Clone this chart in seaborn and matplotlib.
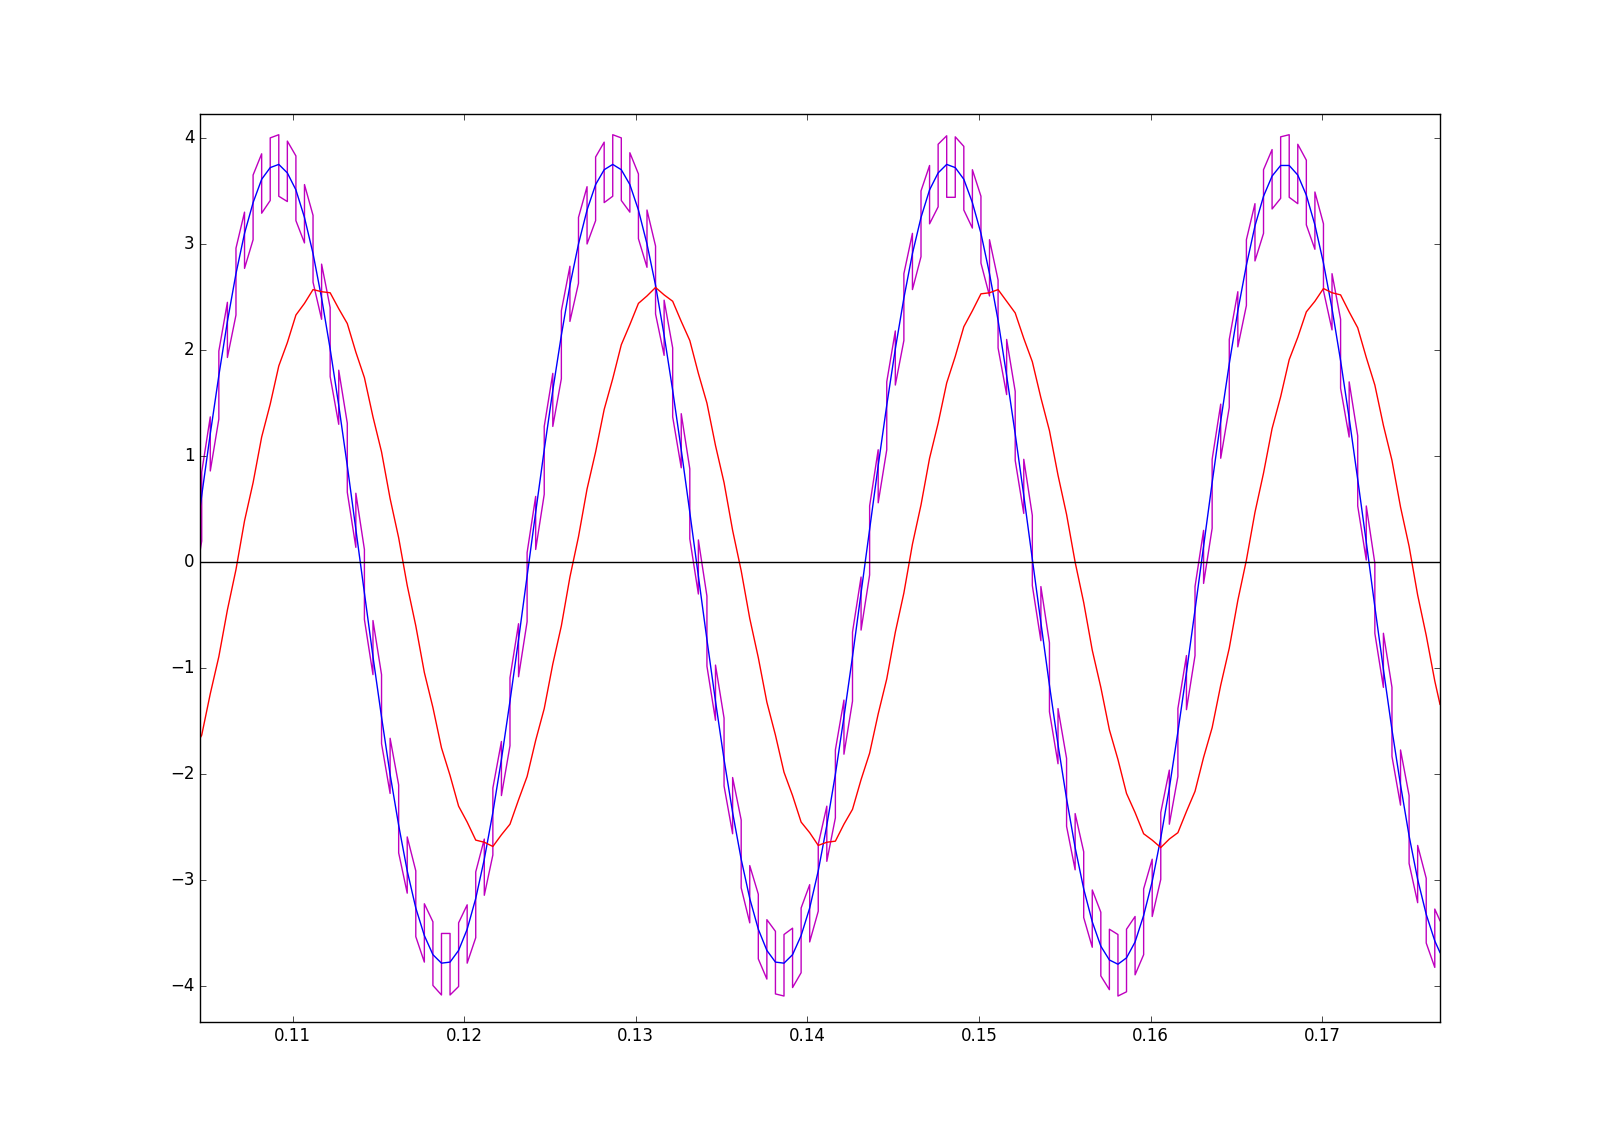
import numpy as np
import matplotlib
matplotlib.use("Agg")
import matplotlib.pyplot as plt
import seaborn as sns

# Sample grid: the pwm steps jump every ~0.5 ms
t_start = 0.1046
t_end = 0.17686
t_first_jump = 0.1047
t_step = 0.000499

# PWM-like signal (magenta): value just before and just after each jump
pwm_start = 0.10
pwm_end = -3.38
pwm_before = [
    0.20, 1.37, 1.35, 2.45, 2.33, 3.30, 3.04, 3.85, 3.41, 4.03,
    3.40, 3.83, 3.01, 3.27, 2.29, 2.40, 1.30, 1.31, 0.14, 0.12,
    -1.06, -1.06, -2.18, -2.10, -3.12, -2.91, -3.77, -3.39, -4.08, -3.50,
    -4.00, -3.23, -3.54, -2.61, -2.76, -1.69, -1.73, -0.58, -0.56, 0.62,
    0.64, 1.78, 1.73, 2.79, 2.63, 3.54, 3.22, 3.96, 3.45, 4.00,
    3.30, 3.66, 2.78, 2.98, 1.95, 2.02, 0.89, 0.88, -0.30, -0.32,
    -1.49, -1.47, -2.56, -2.43, -3.40, -3.13, -3.93, -3.48, -4.09, -3.45,
    -3.87, -3.04, -3.29, -2.30, -2.41, -1.30, -1.31, -0.14, -0.12, 1.06,
    1.06, 2.18, 2.09, 3.10, 2.88, 3.74, 3.35, 4.02, 3.44, 3.92,
    3.15, 3.45, 2.51, 2.66, 1.58, 1.61, 0.46, 0.44, -0.74, -0.76,
    -1.90, -1.85, -2.90, -2.73, -3.63, -3.30, -4.03, -3.51, -4.05, -3.34,
    -3.70, -2.80, -2.99, -1.96, -2.02, -0.88, -0.88, 0.30, 0.32, 1.49,
    1.46, 2.55, 2.42, 3.38, 3.10, 3.89, 3.43, 4.03, 3.38, 3.79,
    2.95, 3.19, 2.19, 2.29, 1.18, 1.19, 0.02, -0.01, -1.18, -1.18,
    -2.29, -2.20, -3.21, -2.98, -3.82,
]
pwm_after = [
    0.85, 0.86, 1.99, 1.93, 2.96, 2.77, 3.65, 3.29, 4.00, 3.45,
    3.97, 3.22, 3.56, 2.64, 2.81, 1.75, 1.81, 0.66, 0.65, -0.54,
    -0.55, -1.71, -1.66, -2.74, -2.59, -3.53, -3.22, -3.99, -3.50, -4.08,
    -3.40, -3.78, -2.92, -3.14, -2.13, -2.20, -1.09, -1.08, 0.09, 0.12,
    1.28, 1.28, 2.37, 2.27, 3.25, 3.00, 3.82, 3.39, 4.03, 3.41,
    3.86, 3.05, 3.32, 2.34, 2.47, 1.37, 1.40, 0.22, 0.21, -0.98,
    -0.97, -2.11, -2.03, -3.07, -2.86, -3.74, -3.37, -4.07, -3.51, -4.01,
    -3.26, -3.58, -2.66, -2.82, -1.77, -1.81, -0.66, -0.64, 0.53, 0.56,
    1.70, 1.67, 2.72, 2.57, 3.50, 3.19, 3.94, 3.44, 4.01, 3.32,
    3.70, 2.82, 3.04, 2.02, 2.10, 0.96, 0.97, -0.22, -0.23, -1.41,
    -1.38, -2.49, -2.37, -3.35, -3.09, -3.90, -3.46, -4.09, -3.46, -3.89,
    -3.08, -3.34, -2.36, -2.47, -1.38, -1.39, -0.23, -0.20, 0.97, 0.98,
    2.10, 2.03, 3.04, 2.84, 3.70, 3.33, 4.01, 3.44, 3.94, 3.18,
    3.49, 2.56, 2.72, 1.64, 1.70, 0.53, 0.53, -0.67, -0.67, -1.83,
    -1.77, -2.84, -2.67, -3.59, -3.27,
]

# Clean sine (blue), read at the same instants
sine_start = 0.51
sine_end = -3.68
sine = [
    0.63, 1.21, 1.76, 2.27, 2.72, 3.10, 3.39, 3.61, 3.72, 3.75,
    3.67, 3.51, 3.25, 2.91, 2.49, 2.01, 1.48, 0.91, 0.31, -0.29,
    -0.89, -1.46, -2.00, -2.48, -2.91, -3.26, -3.52, -3.70, -3.78, -3.77,
    -3.66, -3.46, -3.17, -2.80, -2.36, -1.86, -1.31, -0.73, -0.13, 0.47,
    1.06, 1.62, 2.14, 2.61, 3.00, 3.32, 3.56, 3.70, 3.75, 3.70,
    3.56, 3.32, 3.00, 2.61, 2.14, 1.62, 1.06, 0.47, -0.13, -0.73,
    -1.31, -1.86, -2.36, -2.80, -3.17, -3.46, -3.66, -3.77, -3.78, -3.70,
    -3.52, -3.26, -2.91, -2.48, -2.00, -1.46, -0.89, -0.29, 0.31, 0.91,
    1.48, 2.01, 2.49, 2.91, 3.25, 3.51, 3.67, 3.75, 3.72, 3.61,
    3.39, 3.10, 2.72, 2.28, 1.76, 1.21, 0.63, 0.03, -0.57, -1.16,
    -1.72, -2.23, -2.69, -3.08, -3.39, -3.62, -3.75, -3.79, -3.73, -3.58,
    -3.33, -3.01, -2.60, -2.13, -1.60, -1.04, -0.45, 0.15, 0.75, 1.33,
    1.87, 2.37, 2.80, 3.17, 3.45, 3.64, 3.74, 3.74, 3.65, 3.46,
    3.18, 2.82, 2.39, 1.90, 1.36, 0.78, 0.19, -0.42, -1.01, -1.58,
    -2.10, -2.58, -2.99, -3.32, -3.57,
]

# Filtered output (red)
filt_start = -1.66
filt_end = -1.34
filtered = [
    -1.63, -1.24, -0.89, -0.45, -0.07, 0.39, 0.75, 1.18, 1.49, 1.85,
    2.07, 2.33, 2.44, 2.57, 2.55, 2.54, 2.39, 2.25, 1.98, 1.74,
    1.37, 1.04, 0.60, 0.23, -0.22, -0.60, -1.04, -1.37, -1.75, -2.01,
    -2.30, -2.45, -2.62, -2.64, -2.68, -2.57, -2.47, -2.24, -2.02, -1.68,
    -1.38, -0.96, -0.60, -0.14, 0.24, 0.69, 1.04, 1.44, 1.73, 2.05,
    2.24, 2.44, 2.51, 2.59, 2.52, 2.46, 2.27, 2.09, 1.78, 1.50,
    1.10, 0.75, 0.30, -0.08, -0.53, -0.90, -1.32, -1.63, -1.98, -2.20,
    -2.45, -2.55, -2.67, -2.64, -2.63, -2.47, -2.33, -2.05, -1.80, -1.43,
    -1.10, -0.66, -0.29, 0.17, 0.54, 0.98, 1.31, 1.69, 1.94, 2.22,
    2.37, 2.53, 2.54, 2.57, 2.46, 2.35, 2.11, 1.89, 1.55, 1.24,
    0.82, 0.45, -0.00, -0.38, -0.83, -1.18, -1.58, -1.86, -2.18, -2.36,
    -2.56, -2.62, -2.69, -2.61, -2.55, -2.35, -2.16, -1.84, -1.56, -1.16,
    -0.81, -0.36, 0.02, 0.47, 0.84, 1.26, 1.56, 1.91, 2.12, 2.36,
    2.46, 2.58, 2.54, 2.52, 2.36, 2.21, 1.93, 1.67, 1.29, 0.96,
    0.52, 0.15, -0.31, -0.69, -1.12,
]

x_ticks = [0.11, 0.12, 0.13, 0.14, 0.15, 0.16, 0.17]
y_ticks = [-4, -3, -2, -1, 0, 1, 2, 3, 4]

# Build the x values for each series
t_jumps = t_first_jump + t_step * np.arange(len(pwm_before))
t_pts = np.concatenate([[t_start], t_jumps, [t_end]])

pwm_t = np.concatenate([[t_start], np.repeat(t_jumps, 2), [t_end]])
pwm_y = np.concatenate([[pwm_start],
                        np.column_stack([pwm_before, pwm_after]).ravel(),
                        [pwm_end]])
sine_y = np.concatenate([[sine_start], sine, [sine_end]])
filt_y = np.concatenate([[filt_start], filtered, [filt_end]])

# old matplotlib look
plt.style.use("classic")
fig = plt.figure(figsize=(16, 11.35), dpi=100)
ax = fig.add_subplot(111)

sns.lineplot(x=pwm_t, y=pwm_y, estimator=None, sort=False,
             color="#bf00bf", linewidth=1.0, ax=ax)
sns.lineplot(x=t_pts, y=sine_y, estimator=None, sort=False,
             color="#0000ff", linewidth=1.0, ax=ax)
sns.lineplot(x=t_pts, y=filt_y, estimator=None, sort=False,
             color="#ff0000", linewidth=1.0, ax=ax)
ax.axhline(0, color="k", linewidth=1.0)

ax.set_xlim(t_start, t_end)
ax.set_ylim(-4.33, 4.23)
ax.set_xticks(x_ticks)
ax.set_yticks(y_ticks)
ax.ticklabel_format(useOffset=False)
ax.set_xlabel("")
ax.set_ylabel("")

fig.savefig("out.png", dpi=100, facecolor="white")
